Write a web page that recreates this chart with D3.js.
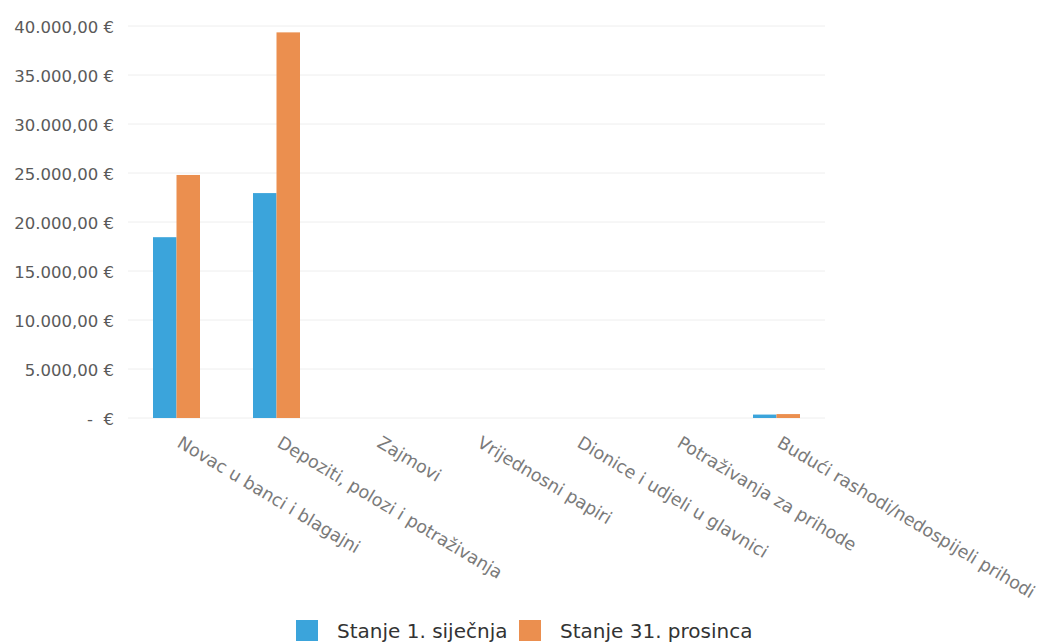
<!DOCTYPE html>
<html><head><meta charset="utf-8">
<script src="https://cdn.jsdelivr.net/npm/d3@7"></script>
<style>body{margin:0;background:#fff;font-family:"DejaVu Sans",sans-serif}</style>
</head><body>
<svg id="c" width="1043" height="642"></svg>
<script>
const categories = ["Novac u banci i blagajni","Depoziti, polozi i potraživanja","Zajmovi","Vrijednosni papiri","Dionice i udjeli u glavnici","Potraživanja za prihode","Budući rashodi/nedospijeli prihodi"];
const seriesNames = ["Stanje 1. siječnja","Stanje 31. prosinca"];
const startValues = [18450, 22950, 0, 0, 0, 0, 350];
const endValues = [24800, 39350, 0, 0, 0, 0, 400];
const yTicks = [0,5000,10000,15000,20000,25000,30000,35000,40000];
const colors = ["#3BA4DB","#EB8F4F"];

const svg = d3.select("#c");
const x = d3.scaleBand().domain(categories).range([127, 827]).paddingInner(0).paddingOuter(0);
const x1 = d3.scaleBand().domain(seriesNames).range([0, 47]);
const y = d3.scaleLinear().domain([0,40000]).range([418, 26]);

// grid
svg.append("g").selectAll("line").data(yTicks).join("line")
  .attr("x1", 128).attr("x2", 825)
  .attr("y1", d=>y(d)).attr("y2", d=>y(d))
  .attr("stroke", "#eeeeee").attr("stroke-width",1);

const fmt = d => d===0 ? "-  €" : d3.format(",.2f")(d).replace(/,/g,"#").replace(/\./g,",").replace(/#/g,".") + " €";
const yAxis = d3.axisLeft(y).tickValues(yTicks).tickSize(0).tickPadding(0).tickFormat(fmt);
svg.append("g").attr("transform","translate(114,0)").call(yAxis)
  .call(g=>g.select(".domain").remove())
  .selectAll("text").attr("font-size",16.5).attr("fill","#5a5a5a").attr("font-family","DejaVu Sans, sans-serif")
  .attr("dy","0.4em").style("white-space","pre");

const data = categories.map((c,i)=>({c, vals:[startValues[i], endValues[i]]}));
const grp = svg.append("g").selectAll("g").data(data).join("g")
  .attr("transform", d=>`translate(${x(d.c)+x.bandwidth()/2-24},0)`);
grp.selectAll("rect").data(d=>d.vals.map((v,k)=>({k,v}))).join("rect")
  .attr("x", d=>x1(seriesNames[d.k])).attr("width", x1.bandwidth())
  .attr("y", d=>y(d.v)).attr("height", d=>y(0)-y(d.v))
  .attr("fill", d=>colors[d.k]);

// x labels
svg.append("g").selectAll("text").data(categories).join("text")
  .attr("transform", d=>`translate(${x(d)+x.bandwidth()/2-1},${y(0)+28}) rotate(31)`)
  .attr("text-anchor","start").attr("font-size",17.5).attr("fill","#7a7a7a")
  .text(d=>d);

// legend
const leg = svg.append("g").attr("transform","translate(296,620)");
const li = leg.selectAll("g").data(seriesNames).join("g")
  .attr("transform",(d,i)=>`translate(${i*223},0)`);
li.append("rect").attr("width",22).attr("height",21).attr("fill",(d,i)=>colors[i]);
li.append("text").attr("x",41).attr("y",18).attr("font-size",20).attr("fill","#333").text(d=>d);
</script>
</body></html>
